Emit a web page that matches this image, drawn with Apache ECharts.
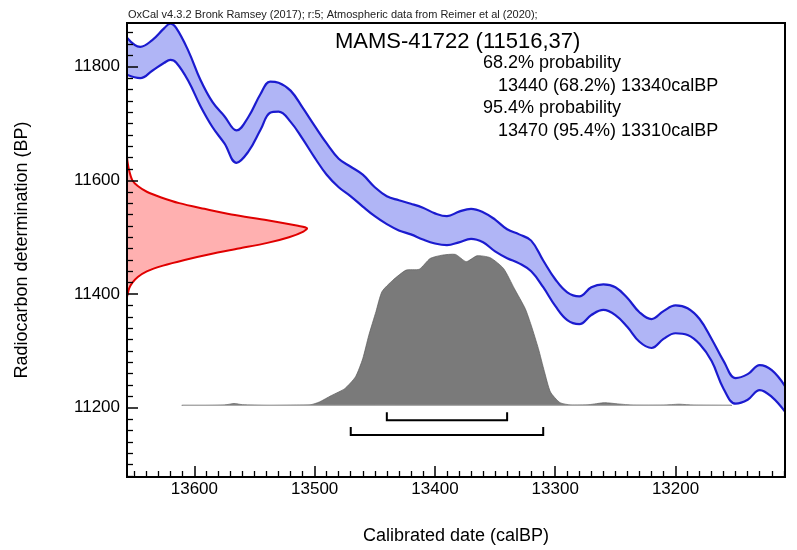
<!DOCTYPE html>
<html>
<head>
<meta charset="utf-8">
<script src="https://cdn.jsdelivr.net/npm/echarts@6/dist/echarts.min.js"></script>
<style>
  html, body { margin: 0; padding: 0; background: #fff; }
  #chart { width: 797px; height: 550px; }
</style>
</head>
<body>
<div id="chart"></div>
<script>
// ---- Axis extents (calBP reversed, radiocarbon BP) ----
const X_MIN = 13109, X_MAX = 13656;
const Y_MIN = 11078, Y_MAX = 11877;

// ---- Calibration curve band ----
const calDates = [13656,13645,13635,13625,13620,13615,13605,13595,13585,13575,13565,13555,13545,13537,13530,13520,13510,13500,13490,13480,13470,13460,13450,13440,13430,13420,13410,13400,13390,13380,13370,13360,13350,13340,13330,13320,13310,13300,13290,13280,13270,13260,13250,13240,13230,13220,13210,13200,13190,13180,13170,13160,13150,13140,13130,13120,13109];
const curveUpper = [11851,11835,11847,11868,11876,11868,11828,11777,11738,11713,11688,11712,11752,11774,11772,11758,11728,11696,11665,11638,11624,11610,11588,11572,11565,11559,11552,11542,11537,11545,11550,11544,11531,11514,11505,11494,11459,11426,11403,11396,11412,11417,11412,11393,11368,11356,11370,11380,11375,11356,11321,11282,11252,11259,11275,11266,11238];
const curveLower = [11786,11780,11793,11807,11812,11807,11775,11731,11694,11665,11631,11651,11689,11719,11721,11703,11673,11640,11610,11588,11572,11554,11537,11523,11512,11505,11496,11489,11486,11491,11497,11491,11475,11463,11454,11440,11412,11379,11354,11347,11363,11372,11363,11342,11316,11305,11321,11331,11328,11312,11282,11233,11207,11214,11231,11219,11193];

const rcBP      = [11640,11620,11600,11590,11580,11570,11560,11550,11540,11530,11520,11516,11510,11500,11490,11480,11470,11460,11450,11440,11430,11420,11410,11400,11395];
const rcDensity = [0,0.01,0.03,0.06,0.11,0.19,0.29,0.43,0.58,0.78,0.95,1.0,0.98,0.90,0.78,0.62,0.46,0.32,0.20,0.11,0.06,0.03,0.012,0.004,0];

// ---- Calibrated probability distribution (relative) ----
const probDates   = [13610,13590,13575,13567,13560,13540,13515,13503,13496,13486,13475,13466,13460,13455,13449,13444,13435,13424,13413,13404,13394,13383,13374,13365,13354,13343,13334,13325,13320,13314,13309,13304,13296,13287,13272,13259,13248,13235,13210,13197,13185,13154];
const probDensity = [0,0,0.003,0.012,0.005,0,0.002,0.005,0.023,0.066,0.111,0.19,0.31,0.464,0.622,0.754,0.829,0.896,0.902,0.973,0.995,1.0,0.952,0.991,0.978,0.907,0.774,0.642,0.531,0.376,0.224,0.089,0.018,0.003,0.005,0.018,0.01,0.002,0.002,0.008,0.002,0];
const probBaseBP = 11204;

// ---- Ranges ----
const range68 = [13440, 13340];
const range95 = [13470, 13310];
const rangeLevels = [11178, 11152];

// ---- Texts ----
const headerText = 'OxCal v4.3.2 Bronk Ramsey (2017); r:5; Atmospheric data from Reimer et al (2020);';
const titleText = 'MAMS-41722 (11516,37)';
const summaryLines = ['68.2% probability', '13440 (68.2%) 13340calBP', '95.4% probability', '13470 (95.4%) 13310calBP'];
const xName = 'Calibrated date (calBP)';
const yName = 'Radiocarbon determination (BP)';

// ---- Styles ----
const FONT = '"Liberation Sans", Arial, Helvetica, sans-serif';
const BLUE = '#1b1bcf';
const BLUE_FILL = '#b0b5f6';
const RED = '#e00000';
const RED_FILL = '#ffb0b0';
const GRAY_FILL = '#7a7a7a';
const RED_W = 180;   // px width of the density peak
const GRAY_H = 151;  // px height of the density peak
const BRACKET_TICK = 8;

const chart = echarts.init(document.getElementById('chart'), null, { renderer: 'canvas' });

const upperData = calDates.map((d, i) => [d, curveUpper[i]]);
const lowerData = calDates.map((d, i) => [d, curveLower[i]]);

function axisCommon() {
  return {
    type: 'value',
    z: 10,
    splitLine: { show: false },
    axisLine: { show: true, onZero: false, lineStyle: { color: '#000', width: 2 } },
    axisTick: { show: true, inside: true, length: 11, lineStyle: { color: '#000', width: 1.5 } },
    minorTick: { show: true, splitNumber: 10, length: 6, lineStyle: { color: '#000', width: 1.3 } },
    nameTextStyle: { color: '#000', fontSize: 18, fontFamily: FONT },
    nameLocation: 'middle'
  };
}
const plainNum = v => String(Math.round(v));

const option = {
  animation: false,
  backgroundColor: '#fff',
  grid: { left: 127, right: 12, top: 23, bottom: 71, show: true, z: 10, borderColor: '#000', borderWidth: 2, backgroundColor: 'transparent' },
  xAxis: Object.assign(axisCommon(), {
    min: X_MIN, max: X_MAX, inverse: true, minInterval: 100, maxInterval: 100,
    name: xName, nameGap: 50,
    axisLabel: { color: '#000', fontSize: 17, fontFamily: FONT, margin: 4, showMinLabel: false, showMaxLabel: false, formatter: plainNum }
  }),
  yAxis: Object.assign(axisCommon(), {
    min: Y_MIN, max: Y_MAX, minInterval: 200, maxInterval: 200,
    name: yName, nameGap: 96,
    axisLabel: { color: '#000', fontSize: 17, fontFamily: FONT, margin: 7, showMinLabel: false, showMaxLabel: false, formatter: plainNum }
  }),
  series: [
    {
      type: 'line', data: upperData, smooth: 0.4, symbol: 'none', z: 2, silent: true,
      lineStyle: { color: BLUE, width: 2.2 },
      areaStyle: { color: BLUE_FILL, opacity: 1, origin: 'start' }
    },
    {
      type: 'line', data: lowerData, smooth: 0.4, symbol: 'none', z: 3, silent: true,
      lineStyle: { color: BLUE, width: 2.2 },
      areaStyle: { color: '#ffffff', opacity: 1, origin: 'start' }
    },
    {
      type: 'custom', data: [[X_MAX, Y_MIN]], z: 4, silent: true,
      renderItem: function (params, api) {
        const pts = rcBP.map((bp, i) => {
          const p = api.coord([X_MAX, bp]);
          return [p[0] + rcDensity[i] * RED_W, p[1]];
        });
        const a = api.coord([X_MAX, rcBP[0]]);
        const b = api.coord([X_MAX, rcBP[rcBP.length - 1]]);
        return {
          type: 'group',
          children: [
            { type: 'polygon', shape: { points: [a].concat(pts).concat([b]) }, style: { fill: RED_FILL, stroke: null } },
            { type: 'polyline', shape: { points: pts, smooth: 0.3 }, style: { stroke: RED, lineWidth: 2, fill: null } }
          ]
        };
      }
    },
    {
      type: 'custom', data: [[X_MAX, Y_MIN]], z: 4, silent: true,
      renderItem: function (params, api) {
        const pts = probDates.map((d, i) => {
          const p = api.coord([d, probBaseBP]);
          return [p[0], p[1] - probDensity[i] * GRAY_H];
        });
        const s = api.coord([probDates[0], probBaseBP]);
        const e = api.coord([probDates[probDates.length - 1], probBaseBP]);
        return {
          type: 'group',
          children: [
            { type: 'polygon', shape: { points: pts, smooth: 0.2 }, style: { fill: GRAY_FILL, stroke: '#5a5a5a', lineWidth: 0.7 } },
            { type: 'line', shape: { x1: s[0], y1: s[1], x2: e[0], y2: e[1] }, style: { stroke: '#a8a8a8', lineWidth: 1.2 } }
          ]
        };
      }
    },
    {
      type: 'custom', data: [[X_MAX, Y_MIN]], z: 4, silent: true,
      renderItem: function (params, api) {
        const ranges = [range68, range95];
        const children = [];
        ranges.forEach((r, k) => {
          const l = api.coord([r[0], rangeLevels[k]]);
          const rr = api.coord([r[1], rangeLevels[k]]);
          children.push({
            type: 'polyline',
            shape: { points: [[l[0], l[1] - BRACKET_TICK], [l[0], l[1]], [rr[0], rr[1]], [rr[0], rr[1] - BRACKET_TICK]] },
            style: { stroke: '#000', lineWidth: 2, fill: null }
          });
        });
        return { type: 'group', children: children };
      }
    }
  ],
  graphic: [
    { type: 'text', x: 128, y: 15, z: 20, style: { text: headerText, font: '11px ' + FONT, fill: '#222', align: 'left', verticalAlign: 'middle' } },
    { type: 'text', x: 335, y: 42, z: 20, style: { text: titleText, font: '22px ' + FONT, fill: '#000', align: 'left', verticalAlign: 'middle' } },
    { type: 'text', x: 483, y: 63, z: 20, style: { text: summaryLines[0], font: '18px ' + FONT, fill: '#000', align: 'left', verticalAlign: 'middle' } },
    { type: 'text', x: 498, y: 86, z: 20, style: { text: summaryLines[1], font: '18px ' + FONT, fill: '#000', align: 'left', verticalAlign: 'middle' } },
    { type: 'text', x: 483, y: 108, z: 20, style: { text: summaryLines[2], font: '18px ' + FONT, fill: '#000', align: 'left', verticalAlign: 'middle' } },
    { type: 'text', x: 498, y: 131, z: 20, style: { text: summaryLines[3], font: '18px ' + FONT, fill: '#000', align: 'left', verticalAlign: 'middle' } }
  ]
};

chart.setOption(option);
</script>
</body>
</html>
